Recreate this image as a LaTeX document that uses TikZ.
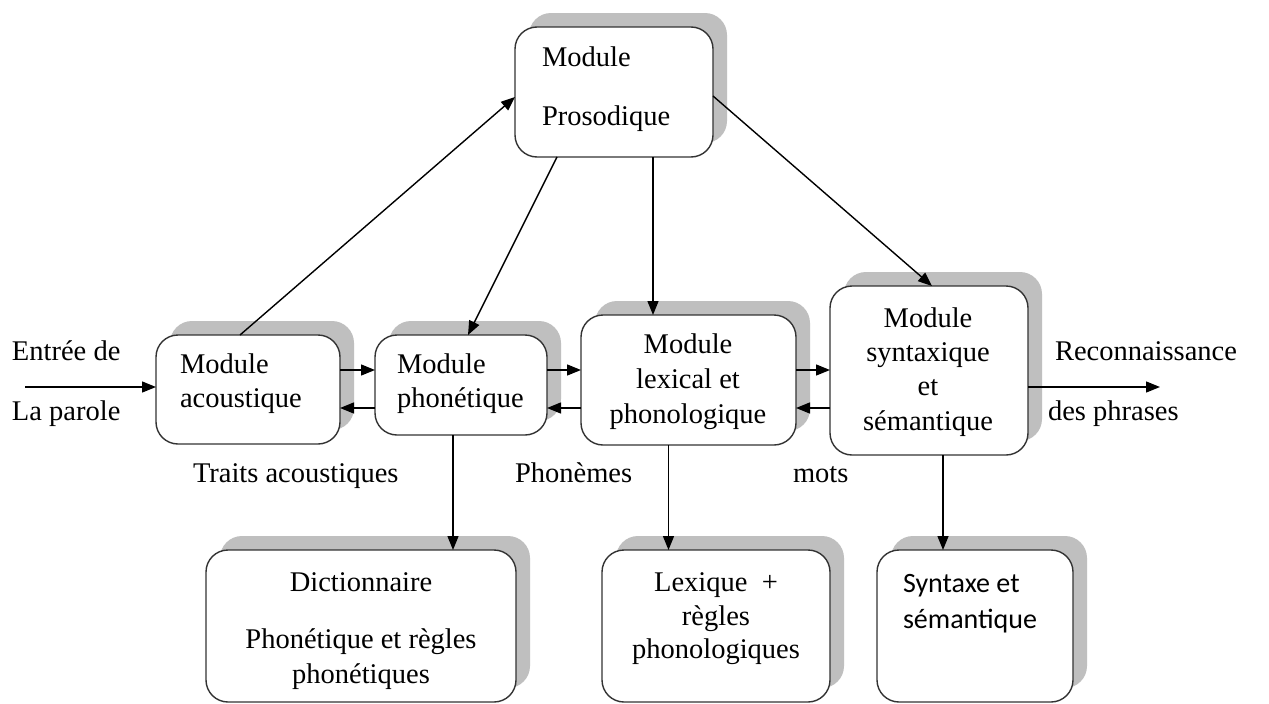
\documentclass[tikz,border=0pt]{standalone}
\usepackage{fontspec}
\setmainfont{Liberation Serif}
\newfontfamily\calib{Carlito}
\usetikzlibrary{arrows.meta,shadows}

\definecolor{boxline}{HTML}{333333}
\definecolor{shadowgray}{HTML}{BFBFBF}

\begin{document}
\begin{tikzpicture}[x=1pt,y=-1pt,
  box/.style 2 args={draw=boxline, line width=1.4pt, fill=white,
    rounded corners=22pt, minimum width=#1, minimum height=#2,
    inner sep=0pt, outer sep=0pt,
    drop shadow={shadow xshift=14pt, shadow yshift=14pt,
      fill=shadowgray, opacity=1}},
  txt/.style={inner sep=0pt, outer sep=0pt, text=black,
    font=\fontsize{28.5}{34}\selectfont},
  sans/.style={txt, font=\calib\fontsize{28}{34}\selectfont},
  arr/.style={draw=black, line width=1.4pt,
    -{Triangle[length=14pt,width=11pt]}}]

% page
\fill[white] (0,0) rectangle (1269,704);
\useasboundingbox (0,0) rectangle (1269,704);

% modules
\node[box={198pt}{130pt}] (pros) at (614,92) {};
\node[box={184pt}{109pt}] (acou) at (248,389.5) {};
\node[box={172pt}{100pt}] (phon) at (461,385) {};
\node[box={215pt}{130pt}] (lex)  at (688.5,380) {};
\node[box={198pt}{169pt}] (synt) at (929,370.5) {};
\node[box={310pt}{152pt}] (dict) at (361,626) {};
\node[box={228pt}{152pt}] (lexq) at (716,626) {};
\node[box={196pt}{152pt}] (syns) at (975,626) {};

% module texts
\node[txt,anchor=base west] (pros1) at (542,66)  {Module};
\node[txt,anchor=base west] (pros2) at (542,125) {Prosodique};

\node[txt,anchor=base west] (acou1) at (180,373) {Module};
\node[txt,anchor=base west] (acou2) at (180,407) {acoustique};

\node[txt,anchor=base west] (phon1) at (397,373) {Module};
\node[txt,anchor=base west] (phon2) at (397,407) {phonétique};

\node[txt,anchor=base] (lex1) at (688,353) {Module};
\node[txt,anchor=base] (lex2) at (688,388) {lexical et};
\node[txt,anchor=base] (lex3) at (688,423) {phonologique};

\node[txt,anchor=base] (synt1) at (928,327) {Module};
\node[txt,anchor=base] (synt2) at (928,361) {syntaxique};
\node[txt,anchor=base] (synt3) at (928,395) {et};
\node[txt,anchor=base] (synt4) at (928,430) {sémantique};

\node[txt,anchor=base] (dict1) at (361,591) {Dictionnaire};
\node[txt,anchor=base] (dict2) at (361,648) {Phonétique et règles};
\node[txt,anchor=base] (dict3) at (361,683) {phonétiques};

\node[txt,anchor=base] (lexq1) at (716,591) {Lexique\ \ +};
\node[txt,anchor=base] (lexq2) at (716,625) {règles};
\node[txt,anchor=base] (lexq3) at (716,658) {phonologiques};

\node[sans,anchor=base west] (syns1) at (903,592) {Syntaxe et};
\node[sans,anchor=base west] (syns2) at (903,628) {sémantique};

% input / output labels
\node[txt,anchor=base west] (in1)  at (12,360)   {Entrée de};
\node[txt,anchor=base west] (in2)  at (12,420)   {La parole};
\node[txt,anchor=base west] (out1) at (1055,360) {Reconnaissance};
\node[txt,anchor=base west] (out2) at (1048,420) {des phrases};

% flow labels
\node[txt,anchor=base west] (lab1) at (193,482) {Traits acoustiques};
\node[txt,anchor=base west] (lab2) at (515,482) {Phonèmes};
\node[txt,anchor=base west] (lab3) at (793,482) {mots};

% helper coordinates
\coordinate (inp)  at (25,387);
\coordinate (outp) at (1160,387);
\coordinate (fwd)  at (0,370);
\coordinate (bwd)  at (0,408);

% input and output
\draw[arr] (inp) -- (inp -| acou.west);
\draw[arr] (outp -| synt.east) -- (outp);

% prosodic links
\draw[arr] ([xshift=-8pt]acou.north) -- ([yshift=-5pt]pros.west);
\draw[arr] ([xshift=-57pt]pros.south) -- ([xshift=7pt]phon.north);
\draw[arr] ([xshift=39pt]pros.south) -- ([xshift=39pt]pros.south |- lex.north);
\draw[arr] ([yshift=-4pt]pros.east) -- ([xshift=3pt]synt.north);

% chain of modules
\draw[arr] (acou.east |- fwd) -- (phon.west |- fwd);
\draw[arr] (phon.west |- bwd) -- (acou.east |- bwd);
\draw[arr] (phon.east |- fwd) -- (lex.west |- fwd);
\draw[arr] (lex.west |- bwd) -- (phon.east |- bwd);
\draw[arr] (lex.east |- fwd) -- (synt.west |- fwd);
\draw[arr] (synt.west |- bwd) -- (lex.east |- bwd);

% knowledge sources
\draw[arr] ([xshift=-8pt]phon.south) -- ([xshift=-8pt]phon.south |- dict.north);
\draw[arr] ([xshift=-20pt]lex.south) -- ([xshift=-20pt]lex.south |- lexq.north);
\draw[arr] ([xshift=14pt]synt.south) -- ([xshift=14pt]synt.south |- syns.north);
\end{tikzpicture}
\end{document}
